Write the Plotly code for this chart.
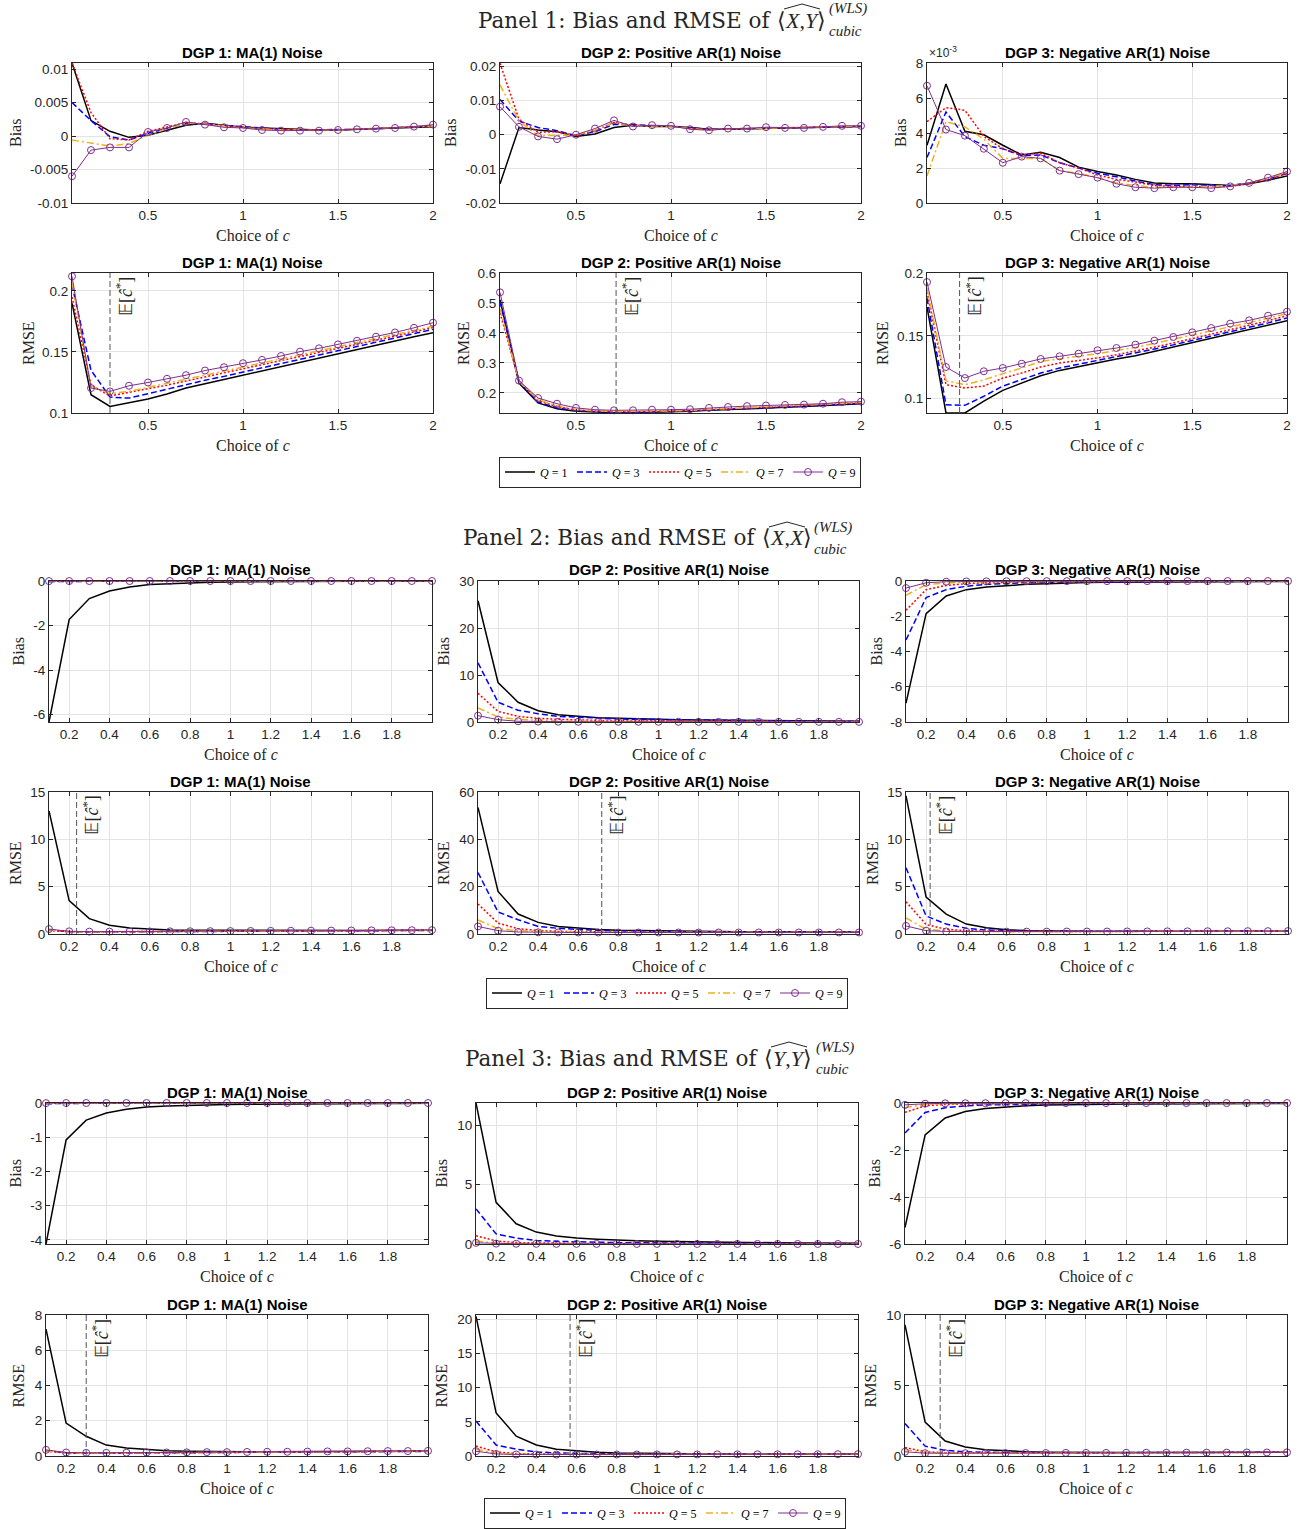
import plotly.graph_objects as go

W, H = 1311, 1529

# ---------------------------------------------------------------------------
# Data: grid of tuning constants c and the five quadrature orders Q
# ---------------------------------------------------------------------------
c_grid = [0.1, 0.2, 0.3, 0.4, 0.5, 0.6, 0.7, 0.8, 0.9, 1.0,
          1.1, 1.2, 1.3, 1.4, 1.5, 1.6, 1.7, 1.8, 1.9, 2.0]
q_orders = [1, 3, 5, 7, 9]

# Panel 1: <X,Y> -- bias (rows: Q = 1, 3, 5, 7, 9)
xy_bias_dgp1 = [
    [0.0109, 0.0023, 0.0007, -0.0002, 0.0001, 0.0008, 0.0016, 0.0019, 0.0016, 0.0013, 0.0012, 0.0011, 0.0009, 0.0009, 0.0009, 0.0010, 0.0011, 0.0012, 0.0013, 0.0014],
    [0.0050, 0.0023, -0.0001, -0.0006, 0.0004, 0.0012, 0.0019, 0.0018, 0.0016, 0.0013, 0.0012, 0.0010, 0.0009, 0.0009, 0.0009, 0.0010, 0.0011, 0.0012, 0.0013, 0.0015],
    [0.0109, 0.0035, -0.0004, -0.0006, 0.0007, 0.0014, 0.0020, 0.0018, 0.0015, 0.0013, 0.0011, 0.0010, 0.0009, 0.0009, 0.0009, 0.0010, 0.0011, 0.0012, 0.0013, 0.0015],
    [-0.0006, -0.0011, -0.0015, -0.0011, 0.0001, 0.0011, 0.0019, 0.0018, 0.0015, 0.0012, 0.0011, 0.0009, 0.0009, 0.0008, 0.0009, 0.0010, 0.0011, 0.0012, 0.0013, 0.0015],
    [-0.0060, -0.0021, -0.0017, -0.0017, 0.0006, 0.0012, 0.0021, 0.0017, 0.0013, 0.0012, 0.0009, 0.0008, 0.0008, 0.0008, 0.0009, 0.0010, 0.0011, 0.0012, 0.0014, 0.0017],
]
xy_bias_dgp2 = [
    [-0.0144, 0.0021, 0.0014, 0.0009, -0.0005, 0.0002, 0.0021, 0.0028, 0.0024, 0.0024, 0.0021, 0.0016, 0.0016, 0.0017, 0.0019, 0.0019, 0.0020, 0.0021, 0.0023, 0.0024],
    [0.0103, 0.0040, 0.0021, 0.0012, -0.0003, 0.0009, 0.0030, 0.0030, 0.0026, 0.0025, 0.0020, 0.0016, 0.0017, 0.0018, 0.0019, 0.0020, 0.0020, 0.0021, 0.0023, 0.0024],
    [0.0209, 0.0045, 0.0007, 0.0009, -0.0003, 0.0012, 0.0036, 0.0027, 0.0026, 0.0025, 0.0019, 0.0015, 0.0017, 0.0018, 0.0020, 0.0020, 0.0020, 0.0022, 0.0024, 0.0025],
    [0.0146, 0.0040, -0.0003, -0.0003, -0.0001, 0.0014, 0.0036, 0.0026, 0.0026, 0.0025, 0.0018, 0.0014, 0.0017, 0.0018, 0.0020, 0.0020, 0.0020, 0.0022, 0.0024, 0.0025],
    [0.0082, 0.0023, -0.0005, -0.0013, 0.0000, 0.0018, 0.0042, 0.0024, 0.0028, 0.0026, 0.0016, 0.0013, 0.0018, 0.0018, 0.0022, 0.0020, 0.0020, 0.0023, 0.0026, 0.0026],
]
# in units of 1e-3
xy_bias_dgp3 = [
    [3.3, 6.8, 4.1, 3.9, 3.3, 2.75, 2.9, 2.6, 2.05, 1.8, 1.6, 1.35, 1.15, 1.1, 1.1, 1.05, 1.0, 1.1, 1.3, 1.55],
    [2.6, 5.2, 3.8, 3.3, 3.1, 2.7, 2.75, 2.3, 2.0, 1.7, 1.5, 1.25, 1.05, 1.0, 1.05, 1.0, 1.0, 1.15, 1.35, 1.7],
    [4.65, 5.45, 5.3, 3.8, 3.1, 2.75, 2.85, 2.3, 2.0, 1.6, 1.35, 1.2, 1.0, 0.95, 0.95, 0.95, 0.95, 1.1, 1.35, 1.7],
    [1.55, 4.65, 4.35, 3.65, 2.55, 2.55, 2.55, 1.85, 1.7, 1.45, 1.15, 1.0, 0.9, 0.9, 0.95, 0.95, 1.0, 1.15, 1.4, 1.75],
    [6.7, 4.2, 3.85, 3.1, 2.3, 2.65, 2.55, 1.85, 1.65, 1.45, 1.1, 0.9, 0.85, 0.9, 0.9, 0.85, 0.95, 1.15, 1.45, 1.8],
]
# Panel 1: <X,Y> -- RMSE
xy_rmse_dgp1 = [
    [0.190, 0.115, 0.1054, 0.1085, 0.1115, 0.1155, 0.1205, 0.124, 0.1275, 0.131, 0.135, 0.1385, 0.142, 0.1455, 0.149, 0.1525, 0.156, 0.1595, 0.1625, 0.1658],
    [0.205, 0.135, 0.113, 0.1122, 0.1158, 0.1195, 0.1235, 0.1268, 0.130, 0.1335, 0.137, 0.1405, 0.144, 0.1475, 0.151, 0.1545, 0.158, 0.1615, 0.165, 0.1685],
    [0.195, 0.123, 0.114, 0.117, 0.1195, 0.1228, 0.1262, 0.1295, 0.1328, 0.136, 0.1395, 0.143, 0.1463, 0.1497, 0.153, 0.1563, 0.1597, 0.163, 0.1665, 0.170],
    [0.207, 0.122, 0.1158, 0.1177, 0.121, 0.1243, 0.1277, 0.131, 0.1342, 0.1375, 0.1408, 0.1442, 0.1475, 0.1508, 0.1542, 0.1575, 0.161, 0.1643, 0.1676, 0.171],
    [0.212, 0.1204, 0.1177, 0.1223, 0.125, 0.128, 0.131, 0.1348, 0.1375, 0.1408, 0.1435, 0.1467, 0.1503, 0.153, 0.1562, 0.1592, 0.1625, 0.166, 0.1698, 0.174],
]
xy_rmse_dgp2 = [
    [0.511, 0.233, 0.1667, 0.147, 0.139, 0.136, 0.134, 0.134, 0.135, 0.137, 0.139, 0.142, 0.144, 0.147, 0.150, 0.152, 0.155, 0.158, 0.161, 0.164],
    [0.505, 0.237, 0.170, 0.150, 0.141, 0.137, 0.135, 0.135, 0.136, 0.138, 0.140, 0.143, 0.145, 0.148, 0.151, 0.153, 0.156, 0.159, 0.162, 0.165],
    [0.467, 0.240, 0.175, 0.154, 0.143, 0.139, 0.137, 0.137, 0.138, 0.139, 0.141, 0.144, 0.147, 0.149, 0.152, 0.155, 0.158, 0.161, 0.164, 0.167],
    [0.480, 0.238, 0.178, 0.157, 0.145, 0.140, 0.138, 0.138, 0.139, 0.140, 0.142, 0.145, 0.148, 0.151, 0.154, 0.156, 0.159, 0.162, 0.165, 0.168],
    [0.5355, 0.241, 0.183, 0.164, 0.150, 0.144, 0.142, 0.142, 0.144, 0.144, 0.1456, 0.150, 0.153, 0.156, 0.158, 0.160, 0.161, 0.164, 0.169, 0.171],
]
xy_rmse_dgp3 = [
    [0.173, 0.0888, 0.0886, 0.098, 0.1066, 0.1125, 0.1183, 0.1225, 0.1257, 0.1289, 0.1316, 0.1342, 0.1377, 0.1411, 0.1448, 0.1483, 0.1517, 0.1549, 0.1586, 0.162],
    [0.180, 0.0952, 0.0947, 0.1019, 0.110, 0.115, 0.1204, 0.1244, 0.1273, 0.1302, 0.1333, 0.1362, 0.1395, 0.1428, 0.1463, 0.1497, 0.153, 0.1565, 0.1603, 0.1642],
    [0.185, 0.1111, 0.1085, 0.110, 0.1164, 0.1204, 0.1252, 0.1284, 0.1304, 0.1324, 0.135, 0.1378, 0.141, 0.1443, 0.1478, 0.1512, 0.1545, 0.158, 0.162, 0.166],
    [0.188, 0.1143, 0.1111, 0.115, 0.1199, 0.1244, 0.1297, 0.1320, 0.1338, 0.1358, 0.1382, 0.1408, 0.144, 0.1472, 0.1506, 0.154, 0.1572, 0.1605, 0.164, 0.1676],
    [0.1928, 0.1252, 0.1164, 0.1218, 0.1244, 0.1278, 0.1316, 0.1337, 0.1358, 0.1385, 0.1403, 0.143, 0.1462, 0.1491, 0.1528, 0.1562, 0.1597, 0.1623, 0.166, 0.1692],
]

# Panel 2: <X,X> -- bias
xx_bias_dgp1 = [
    [-6.33, -1.73, -0.79, -0.45, -0.27, -0.16, -0.12, -0.075, -0.06, -0.045, -0.035, -0.03, -0.025, -0.02, -0.018, -0.015, -0.013, -0.011, -0.01, -0.009],
    [-0.03, -0.012, -0.008, -0.006, -0.005, -0.004, -0.004, -0.003, -0.003, -0.003, -0.002, -0.002, -0.002, -0.002, -0.002, -0.002, -0.001, -0.001, -0.001, -0.001],
    [-0.012, -0.005, -0.003, -0.002, -0.002, -0.002, -0.001, -0.001, -0.001, -0.001, -0.001, -0.001, -0.001, -0.001, -0.001, -0.001, -0.001, -0.001, -0.001, -0.001],
    [-0.006, -0.003, -0.002, -0.001, -0.001, -0.001, -0.001, -0.001, -0.001, 0.0, 0.0, 0.0, 0.0, 0.0, 0.0, 0.0, 0.0, 0.0, 0.0, 0.0],
    [-0.004, -0.002, -0.001, -0.001, -0.001, 0.0, 0.0, 0.0, 0.0, 0.0, 0.0, 0.0, 0.0, 0.0, 0.0, 0.0, 0.0, 0.0, 0.0, 0.0],
]
xx_bias_dgp2 = [
    [25.8, 8.4, 4.2, 2.4, 1.55, 1.2, 0.92, 0.78, 0.64, 0.56, 0.5, 0.42, 0.38, 0.35, 0.3, 0.27, 0.22, 0.2, 0.18, 0.15],
    [12.6, 4.2, 2.5, 1.75, 1.2, 1.0, 0.78, 0.64, 0.56, 0.5, 0.44, 0.38, 0.34, 0.3, 0.27, 0.24, 0.21, 0.18, 0.16, 0.14],
    [6.1, 2.25, 1.2, 0.78, 0.56, 0.42, 0.35, 0.3, 0.26, 0.23, 0.21, 0.19, 0.17, 0.15, 0.14, 0.13, 0.12, 0.11, 0.1, 0.09],
    [3.0, 1.06, 0.56, 0.35, 0.2, 0.16, 0.14, 0.12, 0.11, 0.1, 0.09, 0.08, 0.08, 0.07, 0.07, 0.06, 0.06, 0.05, 0.05, 0.05],
    [1.35, 0.5, 0.15, 0.08, 0.06, 0.05, 0.05, 0.04, 0.04, 0.04, 0.04, 0.03, 0.03, 0.03, 0.03, 0.03, 0.03, 0.03, 0.03, 0.03],
]
xx_bias_dgp3 = [
    [-6.93, -1.85, -0.85, -0.49, -0.34, -0.25, -0.19, -0.15, -0.11, -0.09, -0.075, -0.065, -0.055, -0.048, -0.042, -0.037, -0.033, -0.03, -0.027, -0.025],
    [-3.35, -0.94, -0.49, -0.30, -0.19, -0.13, -0.09, -0.07, -0.06, -0.05, -0.045, -0.04, -0.035, -0.03, -0.028, -0.025, -0.022, -0.02, -0.018, -0.016],
    [-1.66, -0.49, -0.25, -0.15, -0.10, -0.07, -0.055, -0.045, -0.04, -0.035, -0.03, -0.027, -0.024, -0.021, -0.019, -0.017, -0.015, -0.014, -0.013, -0.012],
    [-0.81, -0.21, -0.11, -0.07, -0.05, -0.04, -0.03, -0.025, -0.02, -0.018, -0.016, -0.014, -0.012, -0.011, -0.01, -0.009, -0.008, -0.008, -0.007, -0.007],
    [-0.40, -0.10, -0.04, -0.025, -0.02, -0.015, -0.012, -0.01, -0.009, -0.008, -0.007, -0.006, -0.006, -0.005, -0.005, -0.004, -0.004, -0.004, -0.003, -0.003],
]
# Panel 2: <X,X> -- RMSE
xx_rmse_dgp1 = [
    [13.0, 3.52, 1.62, 0.92, 0.63, 0.49, 0.42, 0.39, 0.38, 0.37, 0.37, 0.37, 0.37, 0.37, 0.38, 0.38, 0.38, 0.39, 0.39, 0.40],
    [0.42, 0.24, 0.22, 0.22, 0.23, 0.24, 0.25, 0.26, 0.27, 0.28, 0.29, 0.30, 0.31, 0.32, 0.33, 0.34, 0.35, 0.36, 0.37, 0.38],
    [0.38, 0.25, 0.23, 0.23, 0.24, 0.25, 0.26, 0.27, 0.28, 0.29, 0.30, 0.31, 0.32, 0.33, 0.34, 0.35, 0.36, 0.37, 0.38, 0.39],
    [0.44, 0.26, 0.24, 0.24, 0.25, 0.26, 0.27, 0.28, 0.29, 0.30, 0.31, 0.32, 0.33, 0.34, 0.35, 0.36, 0.37, 0.38, 0.39, 0.40],
    [0.52, 0.28, 0.25, 0.25, 0.26, 0.27, 0.28, 0.29, 0.30, 0.31, 0.32, 0.33, 0.34, 0.35, 0.36, 0.37, 0.38, 0.39, 0.40, 0.41],
]
xx_rmse_dgp2 = [
    [53.5, 18.0, 8.45, 4.9, 3.2, 2.4, 1.85, 1.55, 1.4, 1.27, 1.18, 1.1, 1.03, 0.99, 0.95, 0.92, 0.9, 0.88, 0.86, 0.85],
    [26.0, 9.3, 6.0, 3.2, 2.4, 1.8, 1.5, 1.3, 1.15, 1.05, 0.98, 0.93, 0.9, 0.87, 0.85, 0.83, 0.82, 0.81, 0.8, 0.8],
    [12.7, 4.6, 2.25, 1.5, 1.1, 0.95, 0.85, 0.8, 0.77, 0.75, 0.74, 0.73, 0.72, 0.72, 0.72, 0.72, 0.72, 0.72, 0.72, 0.72],
    [5.9, 2.25, 1.4, 1.0, 0.85, 0.78, 0.74, 0.72, 0.71, 0.70, 0.70, 0.70, 0.70, 0.70, 0.70, 0.70, 0.70, 0.70, 0.70, 0.70],
    [3.2, 1.4, 0.85, 0.70, 0.65, 0.63, 0.62, 0.62, 0.62, 0.62, 0.62, 0.62, 0.63, 0.63, 0.63, 0.64, 0.64, 0.64, 0.65, 0.65],
]
xx_rmse_dgp3 = [
    [14.6, 3.9, 2.1, 1.05, 0.65, 0.45, 0.36, 0.32, 0.30, 0.29, 0.29, 0.29, 0.30, 0.30, 0.31, 0.31, 0.32, 0.32, 0.33, 0.33],
    [7.0, 1.9, 1.05, 0.60, 0.42, 0.34, 0.30, 0.28, 0.27, 0.27, 0.27, 0.28, 0.28, 0.29, 0.29, 0.30, 0.30, 0.31, 0.31, 0.32],
    [3.4, 1.0, 0.50, 0.35, 0.30, 0.28, 0.27, 0.26, 0.26, 0.26, 0.27, 0.27, 0.28, 0.28, 0.29, 0.29, 0.30, 0.30, 0.31, 0.31],
    [1.7, 0.50, 0.32, 0.27, 0.26, 0.25, 0.25, 0.25, 0.26, 0.26, 0.26, 0.27, 0.27, 0.28, 0.28, 0.29, 0.29, 0.30, 0.30, 0.31],
    [0.85, 0.35, 0.27, 0.25, 0.25, 0.25, 0.25, 0.25, 0.26, 0.26, 0.26, 0.27, 0.27, 0.28, 0.28, 0.29, 0.29, 0.30, 0.30, 0.31],
]

# Panel 3: <Y,Y> -- bias
yy_bias_dgp1 = [
    [-4.12, -1.08, -0.5, -0.29, -0.18, -0.12, -0.09, -0.07, -0.055, -0.045, -0.037, -0.031, -0.026, -0.022, -0.019, -0.016, -0.014, -0.012, -0.011, -0.01],
    [-0.02, -0.008, -0.005, -0.004, -0.003, -0.003, -0.002, -0.002, -0.002, -0.002, -0.001, -0.001, -0.001, -0.001, -0.001, -0.001, -0.001, -0.001, -0.001, -0.001],
    [-0.008, -0.004, -0.002, -0.002, -0.001, -0.001, -0.001, -0.001, -0.001, -0.001, 0.0, 0.0, 0.0, 0.0, 0.0, 0.0, 0.0, 0.0, 0.0, 0.0],
    [-0.004, -0.002, -0.001, -0.001, 0.0, 0.0, 0.0, 0.0, 0.0, 0.0, 0.0, 0.0, 0.0, 0.0, 0.0, 0.0, 0.0, 0.0, 0.0, 0.0],
    [-0.003, -0.001, 0.0, 0.0, 0.0, 0.0, 0.0, 0.0, 0.0, 0.0, 0.0, 0.0, 0.0, 0.0, 0.0, 0.0, 0.0, 0.0, 0.0, 0.0],
]
yy_bias_dgp2 = [
    [11.85, 3.5, 1.7, 1.0, 0.67, 0.5, 0.4, 0.32, 0.27, 0.23, 0.2, 0.17, 0.15, 0.13, 0.12, 0.1, 0.09, 0.08, 0.075, 0.07],
    [2.95, 0.85, 0.5, 0.3, 0.22, 0.17, 0.14, 0.12, 0.1, 0.09, 0.08, 0.07, 0.06, 0.055, 0.05, 0.045, 0.04, 0.035, 0.03, 0.03],
    [0.7, 0.25, 0.12, 0.08, 0.06, 0.05, 0.04, 0.035, 0.03, 0.03, 0.025, 0.022, 0.02, 0.018, 0.016, 0.015, 0.014, 0.013, 0.012, 0.011],
    [0.25, 0.08, 0.04, 0.03, 0.02, 0.018, 0.016, 0.014, 0.012, 0.011, 0.01, 0.009, 0.008, 0.008, 0.007, 0.007, 0.006, 0.006, 0.006, 0.005],
    [0.1, 0.03, 0.02, 0.015, 0.01, 0.009, 0.008, 0.007, 0.006, 0.006, 0.005, 0.005, 0.004, 0.004, 0.004, 0.003, 0.003, 0.003, 0.003, 0.003],
]
yy_bias_dgp3 = [
    [-5.3, -1.36, -0.64, -0.36, -0.23, -0.16, -0.12, -0.09, -0.07, -0.06, -0.05, -0.045, -0.04, -0.035, -0.03, -0.028, -0.025, -0.022, -0.02, -0.018],
    [-1.28, -0.40, -0.20, -0.12, -0.08, -0.06, -0.045, -0.035, -0.03, -0.025, -0.022, -0.019, -0.017, -0.015, -0.013, -0.012, -0.011, -0.01, -0.009, -0.008],
    [-0.40, -0.12, -0.06, -0.04, -0.03, -0.022, -0.018, -0.015, -0.012, -0.01, -0.009, -0.008, -0.007, -0.006, -0.006, -0.005, -0.005, -0.004, -0.004, -0.004],
    [-0.20, -0.06, -0.03, -0.02, -0.015, -0.012, -0.01, -0.008, -0.007, -0.006, -0.005, -0.005, -0.004, -0.004, -0.003, -0.003, -0.003, -0.003, -0.002, -0.002],
    [-0.08, -0.03, -0.015, -0.01, -0.008, -0.006, -0.005, -0.004, -0.004, -0.003, -0.003, -0.003, -0.002, -0.002, -0.002, -0.002, -0.002, -0.001, -0.001, -0.001],
]
# Panel 3: <Y,Y> -- RMSE
yy_rmse_dgp1 = [
    [7.2, 1.87, 1.12, 0.62, 0.45, 0.36, 0.3, 0.27, 0.25, 0.24, 0.24, 0.24, 0.24, 0.25, 0.25, 0.26, 0.26, 0.27, 0.27, 0.28],
    [0.30, 0.18, 0.16, 0.16, 0.17, 0.18, 0.18, 0.19, 0.20, 0.20, 0.21, 0.21, 0.22, 0.22, 0.23, 0.24, 0.24, 0.25, 0.26, 0.26],
    [0.28, 0.17, 0.16, 0.16, 0.17, 0.18, 0.18, 0.19, 0.20, 0.20, 0.21, 0.22, 0.22, 0.23, 0.23, 0.24, 0.25, 0.25, 0.26, 0.27],
    [0.30, 0.18, 0.17, 0.17, 0.18, 0.19, 0.19, 0.20, 0.21, 0.21, 0.22, 0.23, 0.23, 0.24, 0.25, 0.25, 0.26, 0.27, 0.27, 0.28],
    [0.35, 0.20, 0.18, 0.18, 0.19, 0.20, 0.20, 0.21, 0.22, 0.22, 0.23, 0.24, 0.24, 0.25, 0.26, 0.26, 0.27, 0.28, 0.28, 0.29],
]
yy_rmse_dgp2 = [
    [20.4, 6.3, 2.9, 1.6, 1.0, 0.75, 0.55, 0.45, 0.4, 0.36, 0.33, 0.31, 0.3, 0.29, 0.28, 0.28, 0.28, 0.28, 0.28, 0.28],
    [5.1, 1.6, 1.0, 0.6, 0.45, 0.36, 0.31, 0.28, 0.27, 0.26, 0.26, 0.26, 0.26, 0.26, 0.26, 0.26, 0.27, 0.27, 0.27, 0.27],
    [1.45, 0.6, 0.35, 0.28, 0.25, 0.24, 0.24, 0.24, 0.24, 0.24, 0.24, 0.25, 0.25, 0.25, 0.25, 0.26, 0.26, 0.26, 0.27, 0.27],
    [1.0, 0.4, 0.27, 0.24, 0.23, 0.23, 0.23, 0.23, 0.23, 0.24, 0.24, 0.24, 0.25, 0.25, 0.25, 0.26, 0.26, 0.26, 0.27, 0.27],
    [0.7, 0.3, 0.22, 0.21, 0.21, 0.21, 0.22, 0.22, 0.22, 0.23, 0.23, 0.23, 0.24, 0.24, 0.25, 0.25, 0.25, 0.26, 0.26, 0.27],
]
yy_rmse_dgp3 = [
    [9.3, 2.4, 1.06, 0.64, 0.45, 0.35, 0.3, 0.27, 0.25, 0.24, 0.24, 0.24, 0.24, 0.24, 0.25, 0.25, 0.25, 0.26, 0.26, 0.27],
    [2.3, 0.7, 0.4, 0.3, 0.26, 0.24, 0.23, 0.23, 0.23, 0.23, 0.23, 0.24, 0.24, 0.24, 0.25, 0.25, 0.25, 0.26, 0.26, 0.27],
    [0.6, 0.3, 0.24, 0.22, 0.22, 0.22, 0.22, 0.22, 0.23, 0.23, 0.23, 0.23, 0.24, 0.24, 0.24, 0.25, 0.25, 0.25, 0.26, 0.26],
    [0.45, 0.25, 0.22, 0.21, 0.21, 0.21, 0.22, 0.22, 0.22, 0.23, 0.23, 0.23, 0.24, 0.24, 0.24, 0.25, 0.25, 0.25, 0.26, 0.26],
    [0.3, 0.2, 0.2, 0.2, 0.2, 0.21, 0.21, 0.21, 0.22, 0.22, 0.22, 0.23, 0.23, 0.23, 0.24, 0.24, 0.24, 0.25, 0.25, 0.26],
]

# Mean of the data-driven choice c* for each panel / DGP
c_star_mean = {
    "xy": [0.30, 0.711, 0.272],
    "xx": [0.237, 0.717, 0.22],
    "yy": [0.30, 0.568, 0.275],
}

dgp_titles = ["DGP 1: MA(1) Noise", "DGP 2: Positive AR(1) Noise", "DGP 3: Negative AR(1) Noise"]

# ---------------------------------------------------------------------------
# Styling
# ---------------------------------------------------------------------------
SERIF = "Liberation Serif"
TITLE_SERIF = "DejaVu Serif"
SANS = "Liberation Sans"
AXIS_COLOR = "#262626"
GRID_COLOR = "#e4e4e4"

series_style = [
    dict(color="#000000", dash="solid", width=1.5, marker=False),
    dict(color="#0000FF", dash="6px,3px", width=1.5, marker=False),
    dict(color="#FF0000", dash="2px,2px", width=1.5, marker=False),
    dict(color="#EDB120", dash="7px,3px,2px,3px", width=1.5, marker=False),
    dict(color="#7E2F8E", dash="solid", width=1.0, marker=True),
]

P1_XT = [0.5, 1, 1.5, 2]
P23_XT = [0.2, 0.4, 0.6, 0.8, 1, 1.2, 1.4, 1.6, 1.8]

# per subplot: data, pixel box (x0, x1, y0, y1), y range, y ticks, y label, y-label x, c*, x ticks, legend id
subplots = [
    # Panel 1
    dict(data=xy_bias_dgp1, box=(72, 433, 63, 203), yr=[-0.01, 0.0109], yt=[-0.01, -0.005, 0, 0.005, 0.01], yl="Bias", ylx=15, cs=None, xt=P1_XT),
    dict(data=xy_bias_dgp2, box=(500, 861, 63, 203), yr=[-0.02, 0.021], yt=[-0.02, -0.01, 0, 0.01, 0.02], yl="Bias", ylx=450, cs=None, xt=P1_XT),
    dict(data=xy_bias_dgp3, box=(927, 1287, 63, 203), yr=[0, 8], yt=[0, 2, 4, 6, 8], yl="Bias", ylx=900, cs=None, xt=P1_XT, exp=True),
    dict(data=xy_rmse_dgp1, box=(72, 433, 273, 413), yr=[0.1, 0.2147], yt=[0.1, 0.15, 0.2], yl="RMSE", ylx=28, cs=c_star_mean["xy"][0], xt=P1_XT, leg="legend"),
    dict(data=xy_rmse_dgp2, box=(500, 861, 273, 413), yr=[0.133, 0.6], yt=[0.2, 0.3, 0.4, 0.5, 0.6], yl="RMSE", ylx=463, cs=c_star_mean["xy"][1], xt=P1_XT),
    dict(data=xy_rmse_dgp3, box=(927, 1287, 273, 413), yr=[0.0886, 0.2], yt=[0.1, 0.15, 0.2], yl="RMSE", ylx=882, cs=c_star_mean["xy"][2], xt=P1_XT),
    # Panel 2
    dict(data=xx_bias_dgp1, box=(49, 432, 581, 722), yr=[-6.33, 0], yt=[-6, -4, -2, 0], yl="Bias", ylx=18, cs=None, xt=P23_XT),
    dict(data=xx_bias_dgp2, box=(478, 859, 581, 722), yr=[0, 30], yt=[0, 10, 20, 30], yl="Bias", ylx=443, cs=None, xt=P23_XT),
    dict(data=xx_bias_dgp3, box=(906, 1288, 581, 722), yr=[-8, 0], yt=[-8, -6, -4, -2, 0], yl="Bias", ylx=876, cs=None, xt=P23_XT),
    dict(data=xx_rmse_dgp1, box=(49, 432, 792, 934), yr=[0, 15], yt=[0, 5, 10, 15], yl="RMSE", ylx=15, cs=c_star_mean["xx"][0], xt=P23_XT, leg="legend2"),
    dict(data=xx_rmse_dgp2, box=(478, 859, 792, 934), yr=[0, 60], yt=[0, 20, 40, 60], yl="RMSE", ylx=443, cs=c_star_mean["xx"][1], xt=P23_XT),
    dict(data=xx_rmse_dgp3, box=(906, 1288, 792, 934), yr=[0, 15], yt=[0, 5, 10, 15], yl="RMSE", ylx=872, cs=c_star_mean["xx"][2], xt=P23_XT),
    # Panel 3
    dict(data=yy_bias_dgp1, box=(46, 428, 1103, 1244), yr=[-4.12, 0], yt=[-4, -3, -2, -1, 0], yl="Bias", ylx=15, cs=None, xt=P23_XT),
    dict(data=yy_bias_dgp2, box=(476, 858, 1103, 1244), yr=[0, 11.85], yt=[0, 5, 10], yl="Bias", ylx=441, cs=None, xt=P23_XT),
    dict(data=yy_bias_dgp3, box=(905, 1287, 1103, 1244), yr=[-6, 0], yt=[-6, -4, -2, 0], yl="Bias", ylx=874, cs=None, xt=P23_XT),
    dict(data=yy_rmse_dgp1, box=(46, 428, 1315, 1456), yr=[0, 8], yt=[0, 2, 4, 6, 8], yl="RMSE", ylx=18, cs=c_star_mean["yy"][0], xt=P23_XT, leg="legend3"),
    dict(data=yy_rmse_dgp2, box=(476, 858, 1315, 1456), yr=[0, 20.6], yt=[0, 5, 10, 15, 20], yl="RMSE", ylx=441, cs=c_star_mean["yy"][1], xt=P23_XT),
    dict(data=yy_rmse_dgp3, box=(905, 1287, 1315, 1456), yr=[0, 10], yt=[0, 5, 10], yl="RMSE", ylx=870, cs=c_star_mean["yy"][2], xt=P23_XT),
]


def px(x):
    return x / W


def py(y):
    return 1 - y / H


def fmt(v):
    return f"{v:g}"


fig = go.Figure()
layout = dict(
    width=W, height=H,
    # fixed margins: legends near the edge must not shrink the plotting area
    margin=dict(l=0, r=0, t=0, b=0, autoexpand=False),
    paper_bgcolor="white", plot_bgcolor="white",
    showlegend=True,
)
annotations = []
shapes = []

for i, sp in enumerate(subplots):
    n = i + 1
    suf = "" if n == 1 else str(n)
    x0, x1, y0, y1 = sp["box"]
    common = dict(
        showline=True, linecolor=AXIS_COLOR, linewidth=1, mirror="ticks",
        ticks="inside", ticklen=4, tickcolor=AXIS_COLOR, tickwidth=1,
        showgrid=True, gridcolor=GRID_COLOR, gridwidth=1, zeroline=False,
        tickfont=dict(family=SANS, size=13.5, color=AXIS_COLOR),
        fixedrange=True, automargin=False,
    )
    layout[f"xaxis{suf}"] = dict(
        common, domain=[px(x0), px(x1)], anchor=f"y{suf}", range=[0.1, 2.0],
        tickmode="array", tickvals=sp["xt"], ticktext=[fmt(v) for v in sp["xt"]],
    )
    layout[f"yaxis{suf}"] = dict(
        common, domain=[py(y1), py(y0)], anchor=f"x{suf}", range=sp["yr"],
        tickmode="array", tickvals=sp["yt"], ticktext=[fmt(v) for v in sp["yt"]],
    )

    leg = sp.get("leg")
    for k, (q, series) in enumerate(zip(q_orders, sp["data"])):
        st = series_style[k]
        tr = dict(
            x=c_grid, y=series, xaxis=f"x{suf}", yaxis=f"y{suf}",
            name=f"<i>Q</i> = {q}",
            mode="lines+markers" if st["marker"] else "lines",
            line=dict(color=st["color"], dash=st["dash"], width=st["width"]),
            showlegend=leg is not None,
            cliponaxis=False,
        )
        if st["marker"]:
            tr["marker"] = dict(symbol="circle-open", size=7, color=st["color"],
                                line=dict(width=1, color=st["color"]))
        if leg is not None:
            tr["legend"] = leg
        fig.add_trace(go.Scatter(**tr))

    # subplot title
    annotations.append(dict(
        x=px((x0 + x1) / 2), y=py(y0 - 11), xref="paper", yref="paper",
        text=f"<b>{dgp_titles[i % 3]}</b>", showarrow=False,
        font=dict(family=SANS, size=15, color="black"), xanchor="center", yanchor="middle",
    ))
    # x-axis label
    annotations.append(dict(
        x=px((x0 + x1) / 2), y=py(y1 + 32), xref="paper", yref="paper",
        text="Choice of <i>c</i>", showarrow=False,
        font=dict(family=SERIF, size=16, color=AXIS_COLOR), xanchor="center", yanchor="middle",
    ))
    # y-axis label
    annotations.append(dict(
        x=px(sp["ylx"]), y=py((y0 + y1) / 2), xref="paper", yref="paper",
        text=sp["yl"], showarrow=False, textangle=-90,
        font=dict(family=SERIF, size=16, color=AXIS_COLOR), xanchor="center", yanchor="middle",
    ))
    if sp.get("exp"):
        annotations.append(dict(
            x=px(x0), y=py(y0 - 1), xref="paper", yref="paper",
            text="×10<sup>-3</sup>", showarrow=False,
            font=dict(family=SANS, size=12, color=AXIS_COLOR), xanchor="left", yanchor="bottom",
        ))
    if sp["cs"] is not None:
        shapes.append(dict(
            type="line", xref=f"x{suf}", yref=f"y{suf} domain",
            x0=sp["cs"], x1=sp["cs"], y0=0, y1=1,
            line=dict(color="#555555", width=1, dash="6px,3px"),
        ))
        annotations.append(dict(
            x=sp["cs"], y=1, xref=f"x{suf}", yref=f"y{suf} domain",
            text="𝔼[<i>ĉ</i><sup>*</sup>]", showarrow=False, textangle=-90,
            font=dict(family=SERIF, size=18, color=AXIS_COLOR),
            xanchor="left", yanchor="top", xshift=1, yshift=-2,
        ))

# Panel titles: main text, bracket with wide hat, super/subscripts
panel_titles = [
    dict(label="Panel 1:", pair="⟨<i>X</i>,<i>Y</i>⟩", y=20, bx=775),
    dict(label="Panel 2:", pair="⟨<i>X</i>,<i>X</i>⟩", y=538, bx=760),
    dict(label="Panel 3:", pair="⟨<i>Y</i>,<i>Y</i>⟩", y=1058, bx=762),
]
for pt in panel_titles:
    yc, bx = pt["y"], pt["bx"]
    annotations.append(dict(
        x=px(bx - 2), y=py(yc), xref="paper", yref="paper",
        text=f"{pt['label']} Bias and RMSE of", showarrow=False,
        font=dict(family=TITLE_SERIF, size=21.5, color=AXIS_COLOR), xanchor="right", yanchor="middle",
    ))
    annotations.append(dict(
        x=px(bx), y=py(yc), xref="paper", yref="paper",
        text=pt["pair"], showarrow=False,
        font=dict(family=SERIF, size=22, color=AXIS_COLOR), xanchor="left", yanchor="middle",
    ))
    annotations.append(dict(
        x=px(bx + 52), y=py(yc - 11), xref="paper", yref="paper",
        text="<i>(WLS)</i>", showarrow=False,
        font=dict(family=SERIF, size=15, color=AXIS_COLOR), xanchor="left", yanchor="middle",
    ))
    annotations.append(dict(
        x=px(bx + 52), y=py(yc + 11), xref="paper", yref="paper",
        text="<i>cubic</i>", showarrow=False,
        font=dict(family=SERIF, size=15, color=AXIS_COLOR), xanchor="left", yanchor="middle",
    ))
    hx0, hx1 = bx + 9, bx + 45
    shapes.append(dict(
        type="path", xref="paper", yref="paper",
        path=f"M {px(hx0)},{py(yc - 11)} L {px((hx0 + hx1) / 2)},{py(yc - 16)} L {px(hx1)},{py(yc - 11)}",
        line=dict(color=AXIS_COLOR, width=1),
    ))

legend_common = dict(
    orientation="h", xanchor="center", yanchor="middle",
    bordercolor=AXIS_COLOR, borderwidth=1, bgcolor="white",
    font=dict(family=SERIF, size=12, color="black"),
    itemwidth=30, entrywidth=27, entrywidthmode="pixels", tracegroupgap=0,
)
layout["legend"] = dict(legend_common, x=px(680), y=py(472))
layout["legend2"] = dict(legend_common, x=px(667), y=py(993))
layout["legend3"] = dict(legend_common, x=px(665), y=py(1513))

layout["annotations"] = annotations
layout["shapes"] = shapes
fig.update_layout(**layout)

fig.write_html("out.html")
